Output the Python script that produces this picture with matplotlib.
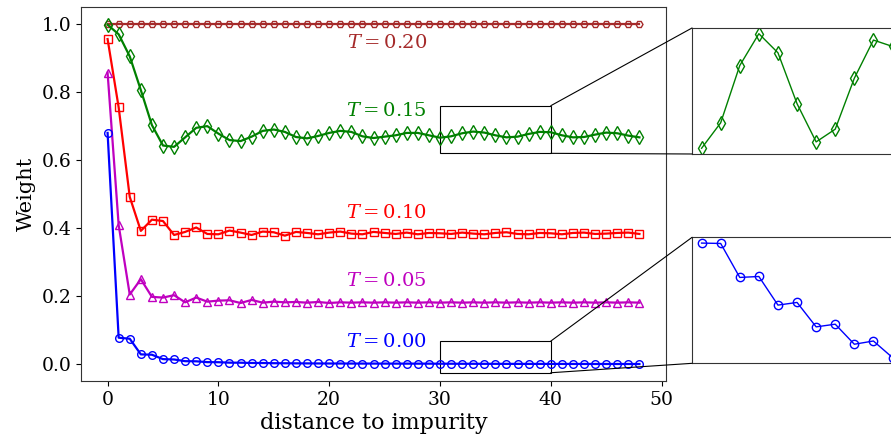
import matplotlib
matplotlib.use("Agg")
import matplotlib.pyplot as plt
from matplotlib.patches import Rectangle, ConnectionPatch
import numpy as np

plt.rcParams.update({"font.family": "DejaVu Serif", "mathtext.fontset": "dejavuserif",
                     "axes.edgecolor": "#333333"})

dist = np.arange(49)

w_t020 = [1.0] * 49
w_t015 = [0.998, 0.970, 0.905, 0.806, 0.703, 0.643, 0.639, 0.667, 0.695, 0.700,
          0.678, 0.659, 0.656, 0.669, 0.686, 0.690, 0.683, 0.668, 0.664, 0.671,
          0.680, 0.686, 0.683, 0.670, 0.665, 0.669, 0.673, 0.680, 0.680, 0.673,
          0.666, 0.670, 0.679, 0.684, 0.681, 0.673, 0.667, 0.669, 0.677, 0.683,
          0.682, 0.673, 0.667, 0.668, 0.675, 0.681, 0.679, 0.672, 0.667]
w_t010 = [0.956, 0.755, 0.492, 0.392, 0.425, 0.421, 0.380, 0.389, 0.402, 0.383,
          0.382, 0.393, 0.387, 0.380, 0.390, 0.388, 0.378, 0.389, 0.386, 0.382,
          0.387, 0.390, 0.384, 0.382, 0.389, 0.386, 0.383, 0.387, 0.382, 0.386,
          0.385, 0.383, 0.387, 0.384, 0.382, 0.386, 0.388, 0.383, 0.382, 0.386,
          0.385, 0.382, 0.386, 0.387, 0.383, 0.384, 0.386, 0.387, 0.383]
w_t005 = [0.857, 0.409, 0.205, 0.250, 0.198, 0.196, 0.203, 0.182, 0.196, 0.184,
          0.187, 0.188, 0.180, 0.189, 0.181, 0.184, 0.182, 0.183, 0.181, 0.183,
          0.180, 0.182, 0.181, 0.182, 0.181, 0.182, 0.181, 0.182, 0.181, 0.182,
          0.181, 0.182, 0.181, 0.182, 0.181, 0.182, 0.181, 0.182, 0.181, 0.182,
          0.181, 0.182, 0.181, 0.182, 0.181, 0.182, 0.181, 0.182, 0.181]
w_t000 = [0.680, 0.078, 0.075, 0.029, 0.028, 0.015, 0.014, 0.0090, 0.0086, 0.0062,
          0.0060, 0.0046, 0.0045, 0.0037, 0.0036, 0.0030, 0.0029, 0.0026, 0.0025, 0.0023,
          0.0022, 0.0021, 0.0020, 0.00195, 0.0019, 0.00185, 0.00180, 0.00175, 0.00170, 0.00168,
          0.00150, 0.001498, 0.001320, 0.001325, 0.001175, 0.001189, 0.001061, 0.001075, 0.000970, 0.000987,
          0.000900, 0.000915, 0.00083, 0.00084, 0.00077, 0.00078, 0.00072, 0.00073, 0.00068]

temps = ["0.20", "0.15", "0.10", "0.05", "0.00"]
series = [w_t020, w_t015, w_t010, w_t005, w_t000]
colors = ["brown", "g", "r", "m", "b"]
markers = ["H", "d", "s", "^", "o"]
label_y = [0.944, 0.743, 0.445, 0.245, 0.065]
msizes = {"H": 5, "d": 7, "s": 5.5, "^": 5.5, "o": 5.5}

fig = plt.figure(figsize=(8.91, 4.42), dpi=100)
ax = fig.add_axes([0.0909, 0.138, 0.6566, 0.846])

for w, c, m in zip(series, colors, markers):
    ax.plot(dist, w, color=c, marker=m, ms=msizes[m], mfc="none", mec=c, mew=1.0, lw=1.6)

for t, c, yl in zip(temps, colors, label_y):
    ax.text(25.2, yl, rf"$T={t}$", color=c, fontsize=14, ha="center", va="center")

ax.set_xlabel("distance to impurity", fontsize=16, labelpad=2)
ax.set_ylabel("Weight", fontsize=15)
ax.tick_params(labelsize=13.5)
ax.set_xticks([0, 10, 20, 30, 40, 50])

# zoom boxes on the main axes
boxes = [(0.62, 0.76), (-0.025, 0.068)]
for y0, y1 in boxes:
    ax.add_patch(Rectangle((30, y0), 10, y1 - y0, fill=False, ec="black", lw=0.8))

# insets
ins_top = fig.add_axes([0.7767, 0.6516, 0.2357, 0.2851])
ins_bot = fig.add_axes([0.7767, 0.178, 0.2357, 0.285])
sel = slice(30, 41)
ins_top.plot(dist[sel], w_t015[sel], color="g", marker="d", ms=7, mfc="none", mew=1.0, lw=1.0)
ins_bot.plot(dist[sel], w_t000[sel], color="b", marker="o", ms=6, mfc="none", mew=1.0, lw=1.0)

for ins, (y0, y1) in zip([ins_top, ins_bot], boxes):
    ins.set_xlim(29.5, 40.5)
    ins.set_xticks([])
    ins.set_yticks([])
    for corner_y, ins_y in [(y1, 1), (y0, 0)]:
        con = ConnectionPatch(xyA=(40, corner_y), coordsA=ax.transData,
                              xyB=(0, ins_y), coordsB=ins.transAxes,
                              color="black", lw=0.8)
        fig.add_artist(con)

fig.savefig("out.png", dpi=100)
